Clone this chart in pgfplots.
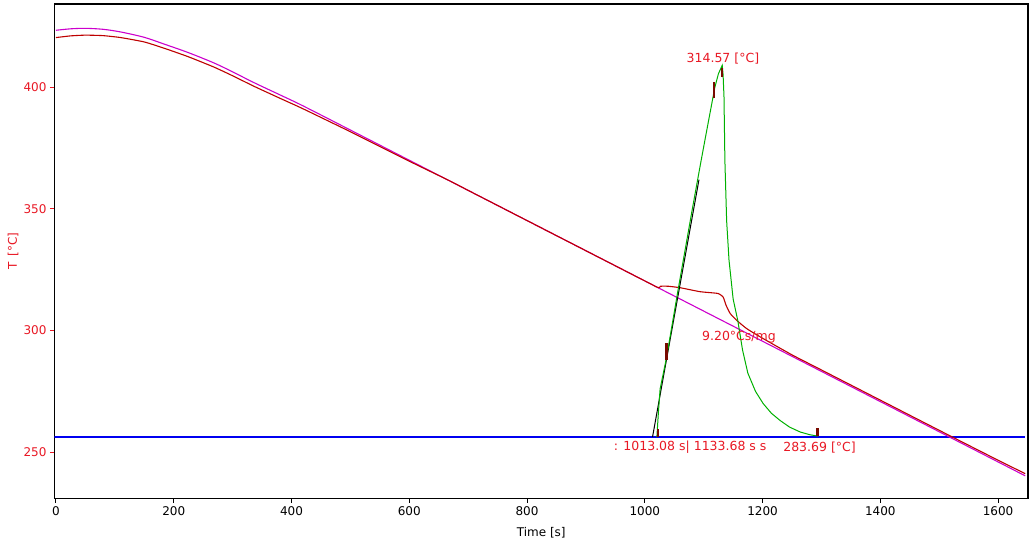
\documentclass[border=0pt]{standalone}
\usepackage{pgfplots}
\pgfplotsset{compat=1.18}
\usepackage{fontspec}
\setmainfont{DejaVu Sans}

\definecolor{txtred}{RGB}{232,24,36}
\definecolor{sampmag}{RGB}{204,0,204}
\definecolor{refred}{RGB}{190,0,0}
\definecolor{dtagreen}{RGB}{0,176,0}
\definecolor{baseblue}{RGB}{0,0,240}
\definecolor{markred}{RGB}{120,10,0}

\begin{document}
\begin{tikzpicture}
    \useasboundingbox (-54.5pt,-45.7pt) rectangle (977.5pt,498.3pt);
    \begin{axis}[
        at={(0,0)}, anchor=south west,
        scale only axis,
        width=973.5pt,
        height=494.3pt,
        xmin=-2.5, xmax=1650.8,
        ymin=231.06, ymax=434.2,
        axis line style={line width=1.2pt},
        xtick={0,200,...,1600},
        ytick={250,300,350,400},
        tick align=outside,
        xtick pos=bottom,
        ytick pos=left,
        major tick length=4.5pt,
        ytick style={txtred, line width=1pt},
        xtick style={black, line width=1pt},
        ticklabel style={font=\fontsize{12}{14}\selectfont},
        yticklabel style={text=txtred},
        /pgf/number format/assume math mode=true,
        /pgf/number format/1000 sep={},
        scaled ticks=false,
        xlabel={Time [s]},
        ylabel={T\enspace[°C]},
        xlabel style={at={(axis description cs:0.5,-0.0688)}, anchor=center,
            font=\fontsize{12}{14}\selectfont},
        ylabel style={at={(axis description cs:-0.0426,0.5)}, anchor=center,
            text=txtred, font=\fontsize{12}{14}\selectfont},
    ]
    % baseline
    \addplot[draw=baseblue, line width=1.3pt] coordinates {(-2.5,256.2) (1646,256.2)};
    % sample temperature
    \addplot[draw=sampmag, line width=1.1pt, smooth] coordinates {
    (0,423.4) (25,424.0) (50,424.2) (80,423.8) (110,422.7) (150,420.5)
    (184,417.7) (225,414.2) (269,409.9) (300,406.3) (337,401.8) (380,396.9)
    (419,392.4) (500,382.4) (600,370.0) (700,357.6) (800,345.2) (900,332.8)
    (1000,320.4) (1100,308.0) (1200,295.6) (1300,283.2) (1400,270.8)
    (1500,258.4) (1600,246.0) (1646,240.3)
    };
    % reference temperature
    \addplot[draw=refred, line width=1.1pt, smooth, tension=0.3] coordinates {
    (0,420.4) (25,421.1) (50,421.4) (80,421.2) (110,420.4) (150,418.6)
    (184,416.0) (225,412.5) (269,408.2) (300,404.7) (337,400.3) (380,395.5)
    (419,391.2) (500,381.7) (600,369.6) (668,361.6) (700,357.6) (800,345.2)
    (900,332.8) (1000,320.4) (1023,317.6) (1027,318.2) (1040,318.2)
    (1060,317.6) (1093,316.0) (1110,315.6) (1125,315.2) (1133,313.8)
    (1138,310.4) (1145,307.0) (1156,304.2) (1173,300.8) (1196,297.4)
    (1250,290.0) (1300,283.8) (1400,271.4) (1500,259.0) (1600,246.7) (1646,241.2)
    };
    % onset tangent
    \addplot[draw=black, line width=1pt] coordinates {(1013.08,256.2) (1092,362)};
    % DTA peak
    \addplot[draw=dtagreen, line width=1pt] coordinates {
    (1020.5,256.2) (1023,266) (1026,276) (1037,289) (1056,316) (1080,349)
    (1095,369) (1105,382) (1112,391) (1119,400) (1125,405.5) (1131.5,409.0)
    (1133,405) (1134.5,396) (1136,370) (1139,345) (1143,329) (1150,313)
    (1158,304) (1166,292) (1175,282.5) (1188,275) (1201,270) (1215,266)
    (1230,263) (1246,260.3) (1264,258.3) (1280,257.2) (1294,256.6)
    };
    % evaluation markers
    \addplot[draw=markred, line width=2.5pt] coordinates {(1022.6,256.2) (1022.6,259.4)};
    \addplot[draw=markred, line width=2.5pt] coordinates {(1036.8,287.9) (1036.8,294.8)};
    \addplot[draw=markred, line width=2.5pt] coordinates {(1117.5,395.4) (1117.5,402.2)};
    \addplot[draw=markred, line width=2.5pt] coordinates {(1131.5,404.3) (1131.5,407.7)};
    \addplot[draw=markred, line width=2.5pt] coordinates {(1293,256.6) (1293,259.8)};

    \begin{scope}[every node/.style={text=txtred, inner sep=0pt,
        font=\fontsize{12.5}{14}\selectfont}]
    \node[anchor=center] at (axis cs:1132.7,411.9) {314.57 [°C]};
    \node[anchor=center] at (axis cs:1159.9,297.3) {9.20°Cs/mg};
    \node[anchor=west] at (axis cs:947.3,252.1) {: 1013.08 s| 1133.68 s s};
    \node[anchor=center] at (axis cs:1296.8,252.1) {283.69 [°C]};
    \end{scope}
    \end{axis}
\end{tikzpicture}
\end{document}
